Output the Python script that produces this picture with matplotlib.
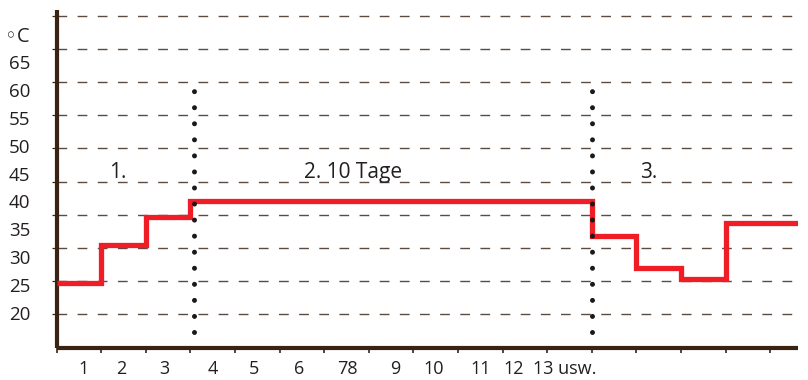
import numpy as np
import matplotlib
matplotlib.use("Agg")
import matplotlib.pyplot as plt
from matplotlib.ticker import FixedLocator

plt.rcParams['font.family'] = ['Open Sans', 'DejaVu Sans']
plt.rcParams['lines.scale_dashes'] = False

# ---- data ----
day_edges = [0, 1, 2, 3, 12, 13, 14, 15, 17]
temps = [25.4, 32.2, 37.3, 40.1, 33.8, 28.1, 26.1, 36.2]
phase_bounds = [3.09, 12.0]
y_tick_values = [20, 25, 30, 35, 40, 45, 50, 55, 60, 65, 70]
y_tick_labels = ['20', '25', '30', '35', '40', '45', '50', '55', '60', '65', '\u25e6C']
x_tick_labels = ['1', '2', '3', '4', '5', '6', '78', '9', '10', '11', '12', '13 usw.']
phase_labels = ['1.', '2. 10 Tage', '3.']

# ---- layout / style ----
x_label_pos = [0.61, 1.46, 2.42, 3.5, 4.42, 5.43, 6.52, 7.6, 8.45, 9.5, 10.25, 11.39]
grid_pos = 19.82 + 5.935 * np.arange(10)
phase_label_x = [1.37, 6.66, 13.27]
phase_label_y = 45.1
dot_range = (16.6, 59.8)

brown = '#3b2314'
gridc = '#5c4b40'
red = '#ee1d26'
textc = '#231f20'

fig = plt.figure(figsize=(8.08, 3.8), dpi=100)
ax = fig.add_axes([56.5 / 808, (380 - 348) / 380, (798 - 56.5) / 808, (348 - 10) / 380])
ax.set_xlim(0, (798 - 56.5) / 44.6)
ax.set_ylim(20 - 35 / 5.578, 20 + 303 / 5.578)

for s in ['top', 'right']:
    ax.spines[s].set_visible(False)
for s in ['left', 'bottom']:
    ax.spines[s].set_color(brown)
    ax.spines[s].set_linewidth(3)
    ax.spines[s].set_capstyle('butt')

# y ticks: labels (major, no mark), gridline ticks (minor)
ax.yaxis.set_major_locator(FixedLocator(y_tick_values))
ax.set_yticklabels(y_tick_labels)
ax.yaxis.set_minor_locator(FixedLocator(list(grid_pos)))
ax.tick_params(axis='y', which='major', length=0, pad=19, labelsize=13.5, labelcolor=textc)
ax.tick_params(axis='y', which='minor', length=3.5, width=0.9, color=brown, direction='out')
for lbl in ax.get_yticklabels():
    lbl.set_horizontalalignment('right')
ax.get_yticklabels()[-1].set_fontsize(14.5)

# x ticks
ax.xaxis.set_major_locator(FixedLocator(x_label_pos))
ax.set_xticklabels(x_tick_labels)
ax.xaxis.set_minor_locator(FixedLocator(list(range(0, 17))))
ax.tick_params(axis='x', which='major', length=0, pad=9, labelsize=13, labelcolor=textc)
ax.tick_params(axis='x', which='minor', length=3.5, width=1.2, color=brown, direction='out')

# dashed gridlines
for g in grid_pos:
    ax.axhline(g, color=gridc, linewidth=1.0, linestyle=(0, (7, 7.5)), zorder=1)

# red temperature profile
ax.stairs(temps, day_edges, baseline=None, color=red, linewidth=3.8, zorder=3)

# dotted phase boundaries
for xb in phase_bounds:
    ax.plot([xb, xb], list(dot_range), color='#1a1a1a', linewidth=3.6,
            linestyle=(0, (0.01, 11.55)), dash_capstyle='round', zorder=4)

for lx, txt in zip(phase_label_x, phase_labels):
    ax.text(lx, phase_label_y, txt, ha='center', va='center', fontsize=15, color=textc)

fig.savefig('out.png', dpi=100)
